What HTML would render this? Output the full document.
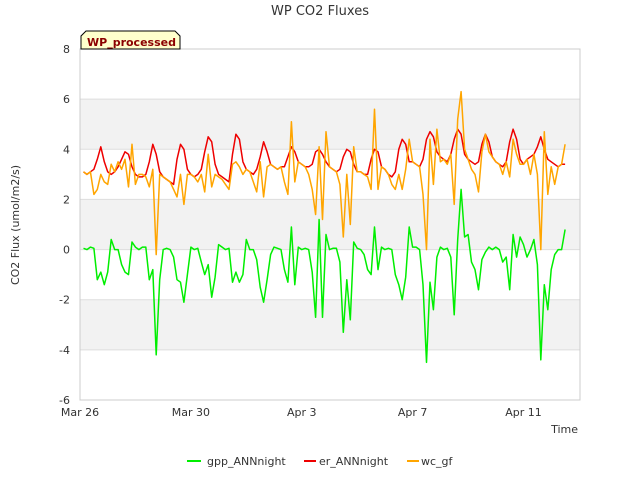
<!DOCTYPE html>
<html><head><meta charset="utf-8"><style>
body{margin:0;background:#fff;font-family:"Liberation Sans","DejaVu Sans",sans-serif;}
svg text{font-family:"DejaVu Sans","Liberation Sans",sans-serif;}
</style></head><body>
<svg id="chart" width="640" height="480" xmlns="http://www.w3.org/2000/svg">
<text x="320" y="15" text-anchor="middle" font-size="13" fill="#333">WP CO2 Fluxes</text>
<text transform="translate(19,225) rotate(-90)" text-anchor="middle" font-size="11" fill="#333">CO2 Flux (umol/m2/s)</text>
<text x="578" y="433" text-anchor="end" font-size="11" fill="#333">Time</text>
<g id="bands"></g><g id="grid"></g><g id="series"></g><g id="ticks"></g>
<g>
<path d="M81,49 L81,36 L86,31 L175,31 L180,36 L180,49 Z" fill="#ffffcc" stroke="#000" stroke-width="1"/>
<text x="87" y="46" font-size="11" font-weight="bold" fill="#8b0000">WP_processed</text>
</g>
<g>
<g><line x1="187" y1="461" x2="201" y2="461" stroke="#00ee00" stroke-width="2"/><text x="207" y="465" font-size="11" fill="#333">gpp_ANNnight</text></g>
<g><line x1="304" y1="461" x2="316" y2="461" stroke="#ee0000" stroke-width="2"/><text x="319" y="465" font-size="11" fill="#333">er_ANNnight</text></g>
<g><line x1="407" y1="461" x2="419" y2="461" stroke="#ffa500" stroke-width="2"/><text x="421" y="465" font-size="11" fill="#333">wc_gf</text></g>
</g>
</svg>
<script>
const yTicks=[-6,-4,-2,0,2,4,6,8];
const xTickLabels=["Mar 26","Mar 30","Apr 3","Apr 7","Apr 11"];
const xTickDays=[0,4,8,12,16];
const er=[3.1,3.0,3.1,3.2,3.6,4.1,3.5,
3.1,3.0,3.1,3.3,3.6,3.9,3.8,3.3,
3.0,2.9,2.9,3.0,3.5,4.2,3.8,3.1,
2.9,2.8,2.7,2.6,3.6,4.2,4.0,3.2,
3.0,2.9,3.0,3.2,3.9,4.5,4.3,3.4,
3.0,2.9,2.8,2.7,3.8,4.6,4.4,3.5,
3.2,3.1,3.0,3.2,3.7,4.3,3.9,3.4,
3.3,3.2,3.3,3.3,3.7,4.1,3.9,3.5,
3.4,3.3,3.3,3.4,3.9,4.0,3.8,3.5,
3.3,3.2,3.1,3.2,3.7,4.0,3.9,3.4,
3.1,3.1,3.0,3.0,3.6,4.0,3.9,3.3,
3.2,3.0,2.9,3.1,4.0,4.4,4.2,3.5,
3.5,3.4,3.3,3.6,4.4,4.7,4.5,3.9,
3.7,3.6,3.5,3.8,4.4,4.8,4.6,3.8,
3.6,3.5,3.4,3.5,4.2,4.6,4.3,3.7,
3.5,3.4,3.3,3.5,4.3,4.8,4.4,3.6,
3.4,3.6,3.7,3.8,4.1,4.5,4.0,3.6,
3.5,3.4,3.3,3.4,3.4];
const gpp=[0.05,0,0.1,0.05,-1.2,-0.9,-1.4,
-0.9,0.4,0,0,-0.6,-0.9,-1.0,0.3,
0.1,0,0.1,0.1,-1.2,-0.8,-4.2,-1.2,
0,0.05,0,-0.3,-1.2,-1.3,-2.1,-1.0,
0.1,0,0.05,-0.5,-1.0,-0.6,-1.9,-1.1,
0.2,0.1,0,0.05,-1.3,-0.9,-1.3,-1.0,
0.4,0,0,-0.4,-1.5,-2.1,-1.2,-0.2,
0.1,0.05,0,-0.8,-1.3,0.9,-1.4,0.1,
0,0.05,0,-0.9,-2.7,1.2,-2.7,0.6,
0,0.05,0.05,-0.5,-3.3,-1.2,-2.8,0.3,
0.05,0,-0.2,-0.8,-1.0,0.9,-0.8,0.1,
0,0.05,0,-1.0,-1.4,-2.0,-1.1,0.9,
0.1,0.1,0,-1.4,-4.5,-1.3,-2.4,-0.3,
0.1,0,0.05,-0.3,-2.6,0.4,2.4,0.5,
0.6,-0.5,-0.8,-1.6,-0.4,-0.1,0.1,0.0,
0.1,0,-0.5,-0.3,-1.6,0.6,-0.3,0.5,
0.2,-0.3,0.0,0.4,-0.6,-4.4,-1.4,-2.4,
-0.8,-0.2,0.0,0.0,0.8];
const wc=[3.1,3.0,3.1,2.2,2.4,3.0,2.7,
2.6,3.4,3.1,3.5,3.2,3.6,2.5,4.2,
2.6,3.0,3.0,2.9,2.5,3.2,-0.2,3.0,
2.9,2.8,2.7,2.4,2.1,3.0,1.8,3.0,
3.0,2.9,2.7,3.0,2.3,3.8,2.5,3.0,
2.9,2.8,2.6,2.4,3.4,3.5,3.3,3.0,
3.2,3.1,2.7,2.3,3.5,2.1,3.3,3.4,
3.3,3.2,3.3,2.7,2.2,5.1,2.7,3.5,
3.4,3.3,3.0,2.4,1.4,4.1,1.2,4.7,
3.3,3.2,3.1,2.6,0.5,3.0,1.0,4.1,
3.1,3.1,3.0,2.9,2.4,5.6,2.4,3.3,
3.2,3.0,2.6,2.4,3.0,2.4,3.2,4.4,
3.5,3.4,3.3,2.2,0.0,4.4,2.6,4.8,
3.5,3.6,3.4,3.8,1.8,5.2,6.3,4.0,
3.6,3.2,3.0,2.3,3.9,4.6,3.9,3.7,
3.5,3.4,3.0,3.5,2.9,4.4,3.8,3.4,
3.4,3.6,3.0,3.8,3.0,0.0,4.7,2.2,
3.3,2.6,3.3,3.4,4.2];
const startDay=0.125, stepDay=0.125;
const X0=80,X1=580,Y0=400,Y1=49;
const xScale=d=>X0+d*27.72;
const yScale=v=>Y0-(v+6)/14*(Y0-Y1);
const NS="http://www.w3.org/2000/svg";
function mk(tag,attrs,parent){const e=document.createElementNS(NS,tag);for(const k in attrs)e.setAttribute(k,attrs[k]);parent.appendChild(e);return e;}
const bands=document.getElementById('bands'),grid=document.getElementById('grid'),ser=document.getElementById('series'),tk=document.getElementById('ticks');
[[4,6],[0,2],[-4,-2]].forEach(b=>{const r=mk('rect',{x:X0,y:yScale(b[1]),width:X1-X0,height:yScale(b[0])-yScale(b[1]),fill:'#f2f2f2'},bands);

});
yTicks.forEach(v=>{const l=mk('line',{x1:X0,x2:X1,y1:yScale(v),y2:yScale(v),stroke:'#dddddd','stroke-width':1},grid);


const t=mk('text',{x:70,y:yScale(v)+4,'text-anchor':'end','font-size':11,fill:'#333'},tk);t.textContent=v;

});
const frame=mk('rect',{x:X0,y:Y1,width:X1-X0,height:Y0-Y1,fill:'none',stroke:'#cccccc'},grid);


xTickDays.forEach((d,i)=>{const t=mk('text',{x:xScale(d),y:416,'text-anchor':'middle','font-size':11,fill:'#333'},tk);t.textContent=xTickLabels[i];

});
function line(arr,color,name){const pts=arr.map((v,i)=>xScale(startDay+i*stepDay).toFixed(1)+','+yScale(v).toFixed(1)).join(' ');
const p=mk('polyline',{points:pts,fill:'none',stroke:color,'stroke-width':1.5,'stroke-linejoin':'round'},ser);

}
line(er,'#ee0000','er-annnight-line');
line(gpp,'#00ee00','gpp-annnight-line');
line(wc,'#ffa500','wc-gf-line');
</script>
</body></html>
